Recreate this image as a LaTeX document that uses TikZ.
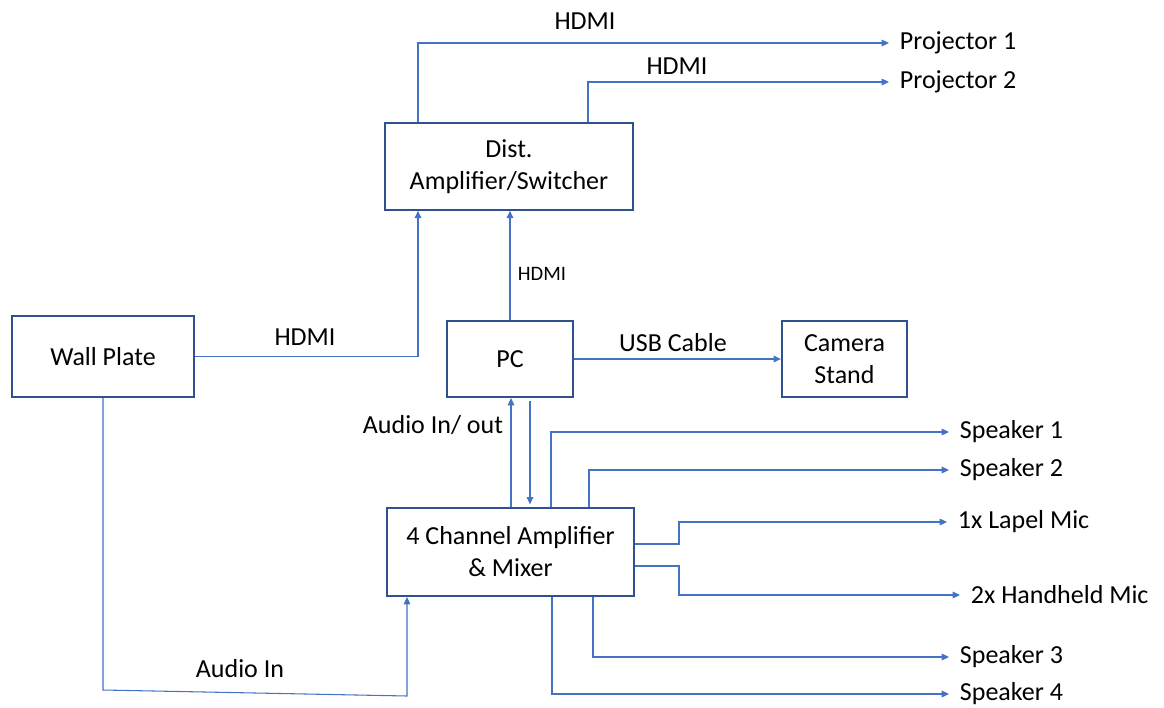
\documentclass[tikz,border=0pt]{standalone}
\usepackage{fontspec}
\setmainfont{Carlito}
\usetikzlibrary{positioning,arrows.meta}
\definecolor{boxblue}{HTML}{2F528F}
\definecolor{lineblue}{HTML}{4472C4}
\tikzset{
  box/.style={draw=boxblue, line width=1.5pt, align=center, inner sep=0pt},
  link/.style={draw=lineblue, line width=0.8pt, -{Triangle[length=5.5pt,width=5pt]}},
  endpt/.style={anchor=west, inner xsep=8pt, inner ysep=1pt},
  lbl/.style={inner sep=1pt},
}

\begin{document}
\begin{tikzpicture}[x=0.75pt, y=-0.75pt, font=\fontsize{19.5}{24}\selectfont]
\useasboundingbox (0,0) rectangle (1164,707);
% boxes
\node[box, minimum width=186pt, minimum height=65pt] (dist) at (509,166.5) {Dist.\\Amplifier/Switcher};
\node[box, minimum width=136.5pt, minimum height=61pt] (wall) at (103,356.5) {Wall Plate};
\node[box, minimum width=94.5pt, minimum height=57pt] (pc) at (510,359) {PC};
\node[box, minimum width=94pt, minimum height=57pt] (cam) at (844.5,359) {Camera\\Stand};
\node[box, minimum width=185pt, minimum height=66pt] (mixer) at (510.5,552) {4 Channel Amplifier\\\& Mixer};
% outputs
\node[endpt] (proj1) at (889,43) {Projector 1};
\node[endpt] (proj2) at (889,82) {Projector 2};
\node[endpt] (spk1) at (949,432) {Speaker 1};
\node[endpt] (spk2) at (949,470) {Speaker 2};
\node[endpt] (lapel) at (947,522) {1x Lapel Mic};
\node[endpt] (hand) at (960,595) {2x Handheld Mic};
\node[endpt] (spk3) at (949,657) {Speaker 3};
\node[endpt] (spk4) at (949,694) {Speaker 4};
% labels
\node[lbl] (hdmia) at (585,21) {HDMI};
\node[lbl] (hdmib) at (677,66) {HDMI};
\node[lbl] (hdmic) at (305,337) {HDMI};
\node[lbl, font=\fontsize{15.4}{18}\selectfont] (hdmid) at (542,274) {HDMI};
\node[lbl] (usb) at (673,343) {USB Cable};
\node[lbl] (audio) at (433,425) {Audio In/ out};
\node[lbl] (audioin) at (240,669) {Audio In};
% connectors
\draw[link] (418,0 |- dist.north) |- (proj1.west);
\draw[link] (588,0 |- dist.north) |- (proj2.west);
\draw[link] (wall.east) -| (418,0 |- dist.south);
\draw[link] (pc.north) -- (pc.north |- dist.south);
\draw[link] (pc.east) -- (cam.west);
\draw[link] (511,0 |- mixer.north) -- (511,0 |- pc.south);
\draw[link, shorten <=2pt, shorten >=2pt] (530,0 |- pc.south) -- (530,0 |- mixer.north);
\coordinate (wallturn) at (103,690);
\coordinate (mixturn) at (407,696);
\draw[link] (wall.south) -- (wallturn) -- (mixturn) -- (mixturn |- mixer.south);
\draw[link] (551,0 |- mixer.north) |- (spk1.west);
\draw[link] (589,0 |- mixer.north) |- (spk2.west);
\draw[link] ([yshift=6pt]mixer.east) -| (679,0 |- lapel.west) -- (lapel.west);
\draw[link] ([yshift=-10.5pt]mixer.east) -| (679,0 |- hand.west) -- (hand.west);
\draw[link] (593,0 |- mixer.south) |- (spk3.west);
\draw[link] (552,0 |- mixer.south) |- (spk4.west);
\end{tikzpicture}
\end{document}
